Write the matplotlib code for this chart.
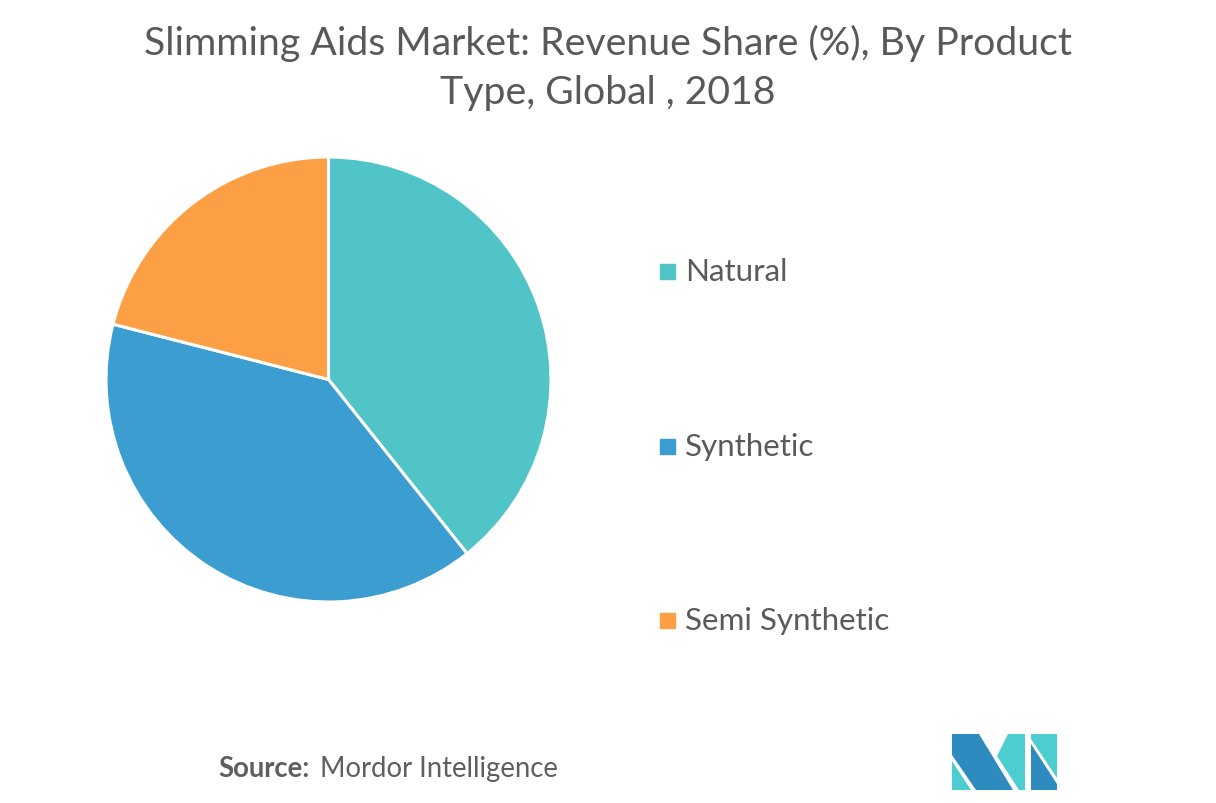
import matplotlib
matplotlib.use("Agg")
import matplotlib.pyplot as plt
from matplotlib.patches import Rectangle, Polygon

categories = ["Natural", "Synthetic", "Semi Synthetic"]
shares = [39.3, 39.7, 21.0]
colors = ["#50C4C7", "#3C9DD0", "#FD9F45"]
title = "Slimming Aids Market: Revenue Share (%), By Product\nType, Global , 2018"

W, H = 1216, 804
fig = plt.figure(figsize=(W / 100, H / 100), dpi=100)
plt.rcParams['font.family'] = ['Lato', 'DejaVu Sans']

def fx(x):
    return x / W

def fy(y):
    return 1 - y / H

# Pie
cx, cy, r = 328.5, 380.5, 222.5
ax = fig.add_axes([fx(cx - r), fy(cy + r), 2 * r / W, 2 * r / H])
ax.pie(shares, colors=colors, startangle=90, counterclock=False,
       wedgeprops=dict(edgecolor="white", linewidth=2.2))
ax.set_xlim(-1.0, 1.0)
ax.set_ylim(-1.0, 1.0)
ax.axis("off")

# Title
fig.text(0.5 * (148 + 1068) / W, fy(68), title, ha="center", va="center",
         fontsize=28.3, color="#595959", linespacing=1.42)

# Legend
leg_y = [272, 447, 621]
for lab, col, y in zip(categories, colors, leg_y):
    fig.patches.append(Rectangle((fx(660), fy(y + 7.5)), 15 / W, 15 / H,
                                 transform=fig.transFigure, color=col))
    fig.text(fx(685), fy(y), lab, ha="left", va="center",
             fontsize=22.6, color="#5a5a5a")

# Source
fig.text(fx(218), fy(769), "Source:", ha="left", va="center",
         fontsize=19.8, fontweight="bold", color="#5f5f5f")
fig.text(fx(320), fy(769), "Mordor Intelligence", ha="left", va="center",
         fontsize=19.8, color="#5f5f5f")

# Logo
dark, light = "#2E8BC0", "#4ECDD0"
def poly(pts, c):
    fig.patches.append(Polygon([(fx(x), fy(y)) for x, y in pts], closed=True,
                               transform=fig.transFigure, color=c, lw=0))

poly([(952, 762), (952, 791), (971, 791)], light)
poly([(952, 735), (979, 735), (1013, 791), (976, 791), (952, 756)], dark)
poly([(997, 757), (1008, 735), (1025, 735), (1025, 791), (1019, 791)], light)
poly([(1031, 735), (1057, 735), (1057, 779), (1031, 740)], light)
poly([(1031, 745), (1057, 785), (1057, 791), (1031, 791)], dark)

fig.savefig("out.png", dpi=100, facecolor="white")
